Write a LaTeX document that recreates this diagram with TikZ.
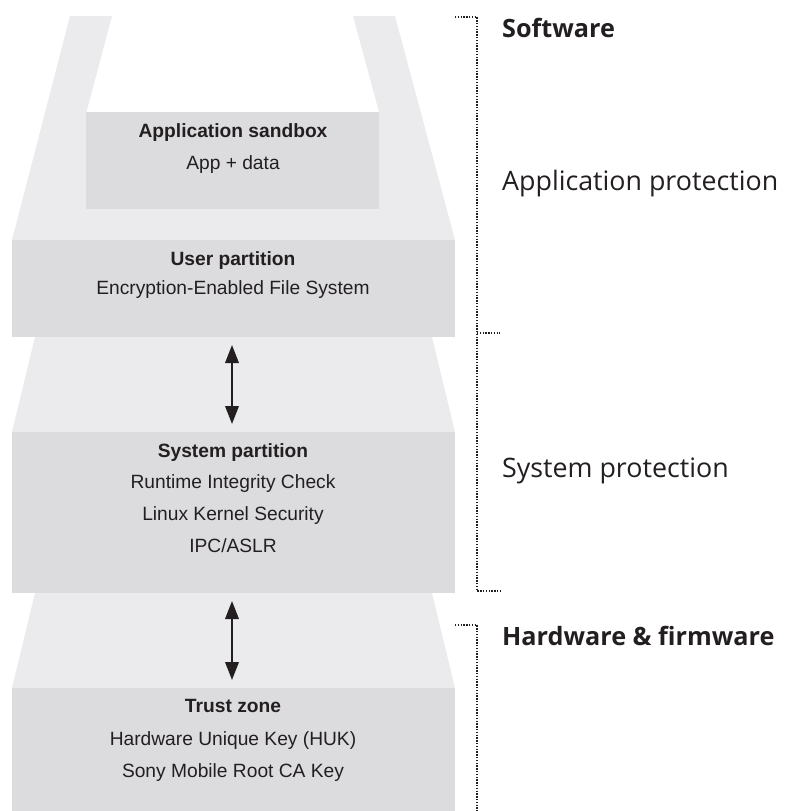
\documentclass[tikz,border=0pt]{standalone}
\usepackage{fontspec}
\setmainfont{Liberation Sans}
\newfontfamily\opensans{Open Sans}
\usetikzlibrary{arrows.meta}
\definecolor{lightband}{HTML}{EBEBED}
\definecolor{darkbox}{HTML}{DCDCDE}
\definecolor{inkc}{HTML}{231F20}
\tikzset{
  band/.style={fill=lightband, draw=none},
  boxfill/.style={fill=darkbox, draw=none},
  ltitle/.style={anchor=base, inner sep=0pt, font=\fontsize{19.2}{23}\selectfont\bfseries, text=inkc},
  ltext/.style={anchor=base, inner sep=0pt, font=\fontsize{19.2}{23}\selectfont, text=inkc},
  rlabel/.style={anchor=base west, inner sep=0pt, font=\opensans\fontsize{26.8}{32}\selectfont, text=inkc},
  rlabelb/.style={anchor=base west, inner sep=0pt, font=\opensans\bfseries\fontsize{25.2}{30}\selectfont, text=inkc},
  flow/.style={line width=2pt, draw=inkc, {Triangle[length=18pt,width=13.5pt]}-{Triangle[length=18pt,width=13.5pt]}},
  brace/.style={draw=inkc, line width=1.6pt, dash pattern=on 1.4pt off 1.4pt}
}
\begin{document}
\begin{tikzpicture}[x=1pt,y=-1pt]
\useasboundingbox (0,0) rectangle (785,811);
% top U-shaped band
\fill[band] (70,16) -- (112,16) -- (86.5,112) -- (379,112) -- (353,16) -- (395,16) -- (455,240) -- (12,240) -- cycle;
% application sandbox
\node[boxfill, minimum width=293pt, minimum height=97pt, anchor=north west, inner sep=0pt] (sandbox) at (86,112) {};
% user partition
\node[boxfill, minimum width=443pt, minimum height=97pt, anchor=north west, inner sep=0pt] (user) at (12,240) {};
% band between user and system
\fill[band] (35,337) -- (432,337) -- (455,432) -- (12,432) -- cycle;
% system partition
\node[boxfill, minimum width=443pt, minimum height=161pt, anchor=north west, inner sep=0pt] (system) at (12,432) {};
% band between system and trust
\fill[band] (35,593) -- (432,593) -- (455,688) -- (12,688) -- cycle;
% trust zone
\node[boxfill, minimum width=443pt, minimum height=123pt, anchor=north west, inner sep=0pt] (trust) at (12,688) {};

% texts
\node[ltitle] (t1) at (233,137) {Application sandbox};
\node[ltext] (t2) at (233,169) {App + data};
\node[ltitle] (t3) at (233,265) {User partition};
\node[ltext] (t4) at (233,294) {Encryption-Enabled File System};
\node[ltitle] (t5) at (233,457) {System partition};
\node[ltext] (t6) at (233,488) {Runtime Integrity Check};
\node[ltext] (t7) at (233,520) {Linux Kernel Security};
\node[ltext] (t8) at (233,552) {IPC/ASLR};
\node[ltitle] (t9) at (233,712) {Trust zone};
\node[ltext] (t10) at (233,745) {Hardware Unique Key (HUK)};
\node[ltext] (t11) at (233,777) {Sony Mobile Root CA Key};

% arrows
\coordinate (a1) at (232,345);
\coordinate (b1) at (232,424);
\coordinate (a2) at (232,601);
\coordinate (b2) at (232,680);
\draw[flow] (a1) -- (b1);
\draw[flow] (a2) -- (b2);

% brackets
\coordinate (s0) at (455,17);
\coordinate (s1) at (477,17);
\coordinate (s2) at (477,591);
\coordinate (s3) at (500,591);
\coordinate (m1) at (477,333);
\coordinate (m2) at (500,333);
\draw[brace] (s0) -- (s1) -- (s2) -- (s3);
\draw[brace] (m1) -- (m2);
\coordinate (h0) at (455,625);
\coordinate (h1) at (477,625);
\coordinate (h2) at (477,811);
\draw[brace] (h0) -- (h1) -- (h2);

% right labels
\node[rlabelb] (sw) at (502,37) {Software};
\node[rlabel] (ap) at (502,190) {Application protection};
\node[rlabel] (sp) at (502,477) {System protection};
\node[rlabelb] (hw) at (502,645) {Hardware \& firmware};
\end{tikzpicture}
\end{document}
